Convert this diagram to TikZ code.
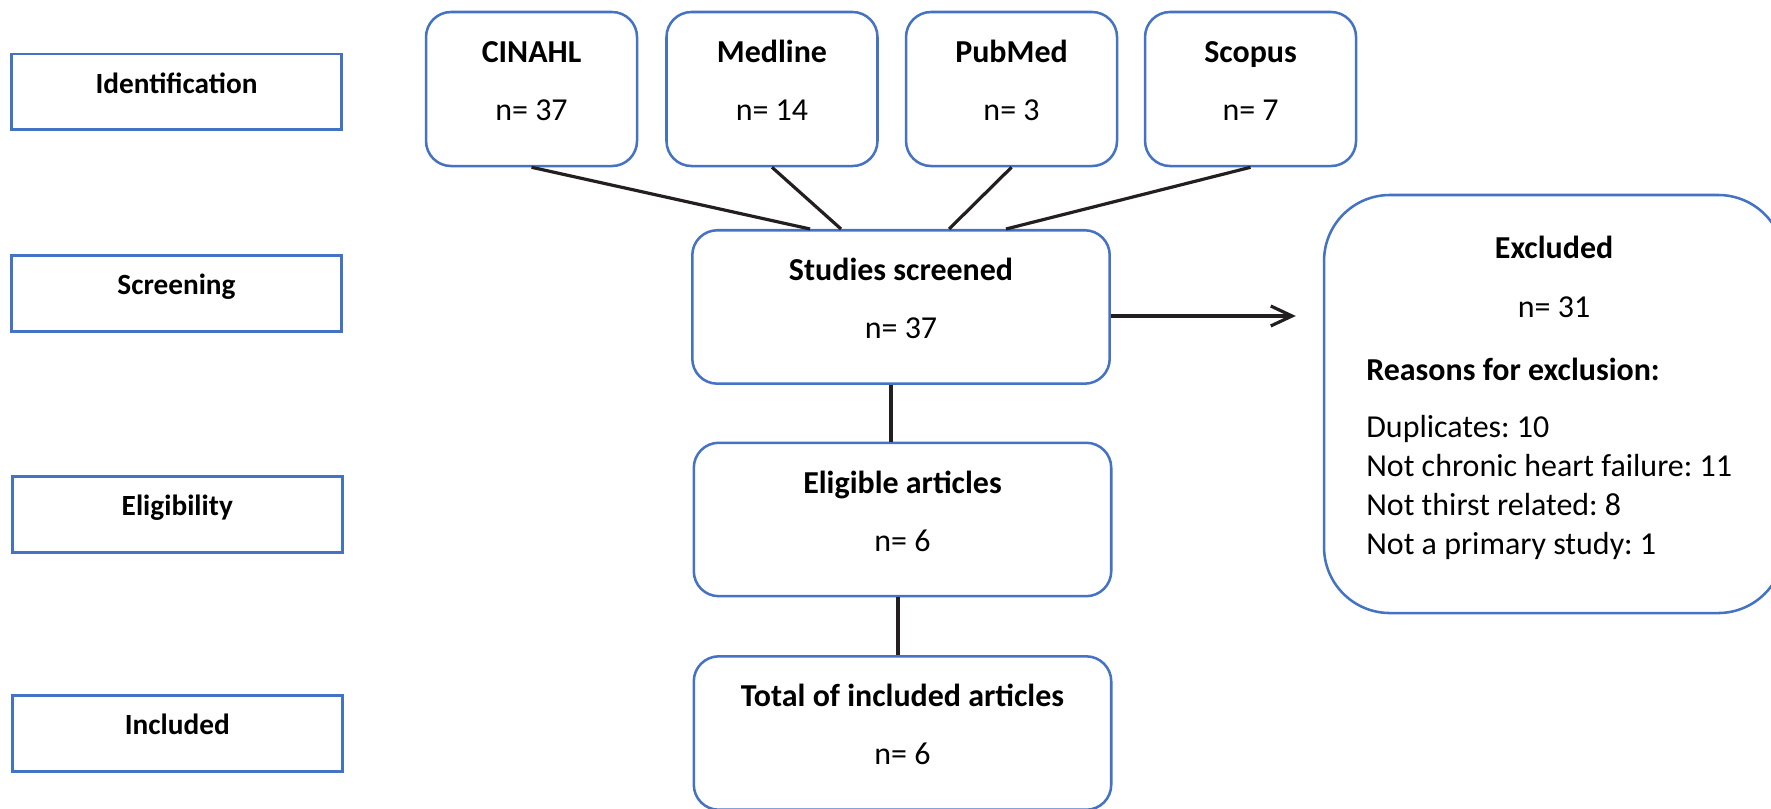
\documentclass[tikz,border=0pt]{standalone}
\usepackage{fontspec}
\setmainfont{Carlito}
\frenchspacing
\usetikzlibrary{positioning, calc, arrows.meta}
\definecolor{boxblue}{HTML}{4472C4}
\definecolor{linegray}{HTML}{231F20}
\tikzset{
stage/.style = {rectangle, draw = boxblue, line width = 1.1pt, minimum width = 4.356cm,
	minimum height = 1.003cm, font = \fontsize{11}{13}\selectfont\bfseries,
	text height = 8pt, text depth = 7.1pt},
rounded/.style = {rectangle, rounded corners = 0.33cm, draw = boxblue, line width = 0.95pt,
	align = center, font = \fontsize{12}{14.5}\selectfont,
	text height = 26.7pt, text depth = 3pt},
database/.style = {rounded, minimum width = 2.785cm, minimum height = 2.033cm},
record/.style = {rounded, minimum width = 5.51cm, minimum height = 2.025cm},
excluded/.style = {rectangle, rounded corners = 0.87cm, draw = boxblue, line width = 0.95pt,
	minimum width = 6.072cm, minimum height = 5.518cm, text width = 141pt, align = flush left,
	font = \fontsize{12}{14.6}\selectfont, text height = 10pt, text depth = 119pt},
link/.style = {line width = 1.2pt, draw = linegray},
exclusion/.style = {link, -{Straight Barb[length = 8pt, width = 7.5pt]}, shorten > = 0.356cm}
}

\begin{document}
\begin{tikzpicture}

\useasboundingbox (0, 0) rectangle (23.377, -10.666);

%% Stages
\node at (2.33, -1.214) [stage] (identification) {Identification};
\node at (2.33, -3.874) [stage] (screening) {Screening};
\node at (2.34, -6.791) [stage] (eligibility) {Eligibility};
\node at (2.34, -9.682) [stage] (included) {Included};

%% Databases
\node at (7.016, -1.175) [database] (cinahl) {\textbf{CINAHL}\\[7.25pt] n= 37};
\node at (10.19, -1.175) [database] (medline) {\textbf{Medline}\\[7.25pt] n= 14};
\node at (13.352, -1.175) [database] (pubmed) {\textbf{PubMed}\\[7.25pt] n= 3};
\node at (16.507, -1.175) [database] (scopus) {\textbf{Scopus}\\[7.25pt] n= 7};

%% Flow
\node at (11.893, -4.052) [record] (screened) {\textbf{Studies screened}\\[7.25pt] n= 37};
\node at (11.913, -6.857) [record] (eligible) {\textbf{Eligible articles}\\[7.25pt] n= 6};
\node at (11.913, -9.676) [record] (total) {\textbf{Total of included articles}\\[7.25pt] n= 6};

% Exclusions
\node at (20.513, -5.333) [excluded] (excl) {\makebox[\hsize]{\textbf{Excluded}}\\[7.5pt]
	\makebox[\hsize]{n= 31}\\[9pt]
	\textbf{Reasons for exclusion:}\\[6.8pt]
	Duplicates: 10\\
	\mbox{Not chronic heart failure: 11}\\
	Not thirst related: 8\\
	Not a primary study: 1};

%% Connectors
\draw [link] (cinahl.south) -- ([xshift = 1.571cm]screened.north west);
\draw [link] (medline.south) -- ([xshift = 1.98cm]screened.north west);
\draw [link] (pubmed.south) -- ([xshift = 3.406cm]screened.north west);
\draw [link] (scopus.south) -- ([xshift = 4.158cm]screened.north west);
\draw [link] ([xshift = -0.132cm]screened.south) -- ([xshift = -0.132cm]screened.south |- eligible.north);
\draw [link] ([xshift = -0.06cm]eligible.south) -- ([xshift = -0.06cm]eligible.south |- total.north);
\draw [exclusion] ([yshift = -0.119cm]screened.east) -- ([yshift = -0.119cm]screened.east -| excl.west);

\end{tikzpicture}
\end{document}
